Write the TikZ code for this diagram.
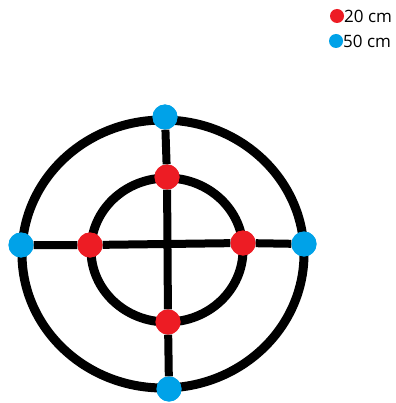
\documentclass[tikz,border=0pt]{standalone}
\usepackage{fontspec}
\setmainfont{Open Sans}
\usetikzlibrary{calc,positioning}
\definecolor{DotRed}{RGB}{237,28,36}
\definecolor{DotBlue}{RGB}{0,162,232}
\tikzset{
    ring/.style={line width=9pt,black},
    cross/.style={line width=8pt,black},
    reddot/.style={circle,fill=DotRed,minimum size=25pt,inner sep=0pt},
    bluedot/.style={circle,fill=DotBlue,minimum size=25pt,inner sep=0pt},
    keydot/.style={circle,minimum size=14pt,inner sep=0pt},
    keytext/.style={anchor=west,inner sep=0pt,font=\fontsize{17}{19}\selectfont}
}
\begin{document}
\begin{tikzpicture}[x=1pt,y=-1pt]
		\useasboundingbox (0,0) rectangle (395,403);
		% rings
		\draw[ring] (163,254) ellipse [x radius=141,y radius=134];
		\draw[ring] (167,250) ellipse [x radius=76,y radius=72];
		% points on the rings
		\node[bluedot] (otop) at (165,117) {};
		\node[bluedot] (obot) at (169,389) {};
		\node[bluedot] (oleft) at (21,245) {};
		\node[bluedot] (oright) at (304,244) {};
		\node[reddot] (itop) at (167,177) {};
		\node[reddot] (ibot) at (168,322) {};
		\node[reddot] (ileft) at (90,245) {};
		\node[reddot] (iright) at (243,243) {};
		% cross
		\draw[cross] (otop) -- (itop) -- (ibot) -- (obot);
		\draw[cross] (oleft) -- (ileft) -- (iright) -- (oright);
		% redraw dots on top
		\foreach \n in {otop,obot,oleft,oright} \fill[DotBlue] (\n) circle (12.5);
		\foreach \n in {itop,ibot,ileft,iright} \fill[DotRed] (\n) circle (12.5);
		% legend
		\node[keydot,fill=DotRed] (kred) at (337,16) {};
		\node[keydot,fill=DotBlue] (kblue) at (336,41) {};
		\node[keytext] (tred) at (344,16) {20 cm};
		\node[keytext] (tblue) at (343,41) {50 cm};
\end{tikzpicture}
\end{document}
